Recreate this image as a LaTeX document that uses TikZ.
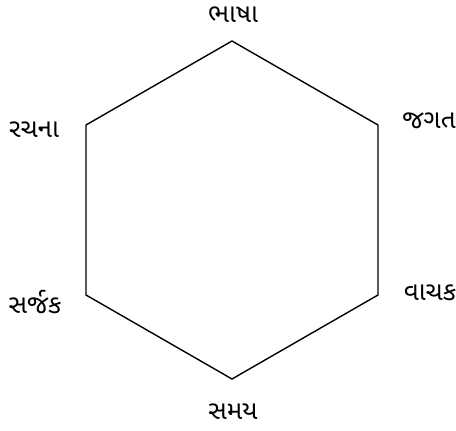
\documentclass[tikz,border=0pt]{standalone}
\usepackage{fontspec}
\newfontfamily\gujfont[Script=Gujarati]{Noto Sans Gujarati UI}
\usetikzlibrary{positioning}

\begin{document}
\begin{tikzpicture}[x=1pt, y=-1pt,
        node distance=6pt,
        every node/.style={font=\gujfont\fontsize{26}{30}\selectfont},
        lbl/.style={inner sep=0pt, anchor=center},
        edge/.style={line width=1.4pt, line join=miter}]
      \useasboundingbox (0,0) rectangle (456,431);
      % corners of the hexagon
      \coordinate (top) at (232,41);
      \coordinate (tr) at (378,125);
      \coordinate (br) at (378,295);
      \coordinate (bot) at (232,379);
      \coordinate (bl) at (86,295);
      \coordinate (tl) at (86,125);
      \draw[edge] (top) -- (tr) -- (br) -- (bot) -- (bl) -- (tl) -- cycle;
      % labels
      \node[lbl] (bhasha) at (233,15) {ભાષા};
      \node[lbl] (jagat) at (429,121) {જગત};
      \node[lbl] (vachak) at (430,293) {વાચક};
      \node[lbl] (samay) at (233,412) {સમય};
      \node[lbl] (sarjak) at (35,302) {સર્જક};
      \node[lbl] (rachna) at (34,130) {રચના};
    \end{tikzpicture}
\end{document}
